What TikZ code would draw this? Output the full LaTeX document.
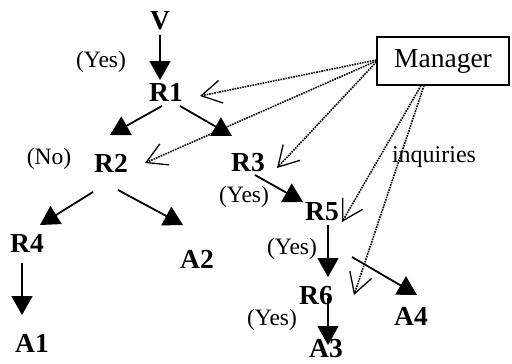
\documentclass[tikz,border=0pt]{standalone}
\usepackage{fontspec}
\setmainfont{Liberation Serif}
\usetikzlibrary{arrows.meta}
\tikzset{
  lbl/.style={inner sep=0pt, font=\bfseries\fontsize{27.5}{27.5}\selectfont},
  ans/.style={inner sep=0pt, font=\fontsize{23.5}{23.5}\selectfont},
  flow/.style={line width=1.8pt, -{Triangle[length=19pt,width=21pt]}},
  ask/.style={line width=1.6pt, densely dotted, -{Straight Barb[length=20pt,width=23pt,line width=1.3pt]}},
  mgr/.style={draw, line width=1.4pt, minimum width=132pt, minimum height=48pt, inner sep=0pt, font=\fontsize{27.5}{27.5}\selectfont}
}
\begin{document}
\begin{tikzpicture}[x=1pt,y=-1pt]
\useasboundingbox (0,0) rectangle (512,364);
% nodes
\node[lbl] (V)  at (160,21)  {V};
\node[lbl] (R1) at (166,92)  {R1};
\node[lbl] (R2) at (111,163) {R2};
\node[lbl] (R3) at (248,163) {R3};
\node[lbl] (R4) at (27,243)  {R4};
\node[lbl] (A2) at (197,259) {A2};
\node[lbl] (A1) at (32,343)  {A1};
\node[lbl] (R5) at (322,212) {R5};
\node[lbl] (R6) at (316,296) {R6};
\node[lbl] (A3) at (326,349) {A3};
\node[lbl] (A4) at (411,316) {A4};
\node[mgr] (M) at (443,61) {Manager};
\node[ans] (y1) at (101,62)  {(Yes)};
\node[ans] (no) at (49,159)  {(No)};
\node[ans] (y2) at (244,197) {(Yes)};
\node[ans] (y3) at (292,249) {(Yes)};
\node[ans] (y4) at (272,320) {(Yes)};
\node[inner sep=0pt, font=\fontsize{24}{24}\selectfont] (inq) at (434,157) {inquiries};
\coordinate (free) at (354,295);
% solid flow arrows
\draw[flow] ([shift={(0,14)}]V.center) -- ([shift={(-6,-12)}]R1.center);
\draw[flow] ([shift={(-4,14)}]R1.center) -- ([shift={(-1,-28)}]R2.center);
\draw[flow] ([shift={(14,14)}]R1.center) -- ([shift={(-16,-27)}]R3.center);
\draw[flow] ([shift={(-18,29)}]R2.center) -- ([shift={(13,-18)}]R4.center);
\draw[flow] ([shift={(7,27)}]R2.center) -- ([shift={(-14,-34)}]A2.center);
\draw[flow] ([shift={(-5,20)}]R4.center) -- ([shift={(-10,-28)}]A1.center);
\draw[flow] ([shift={(7,12)}]R3.center) -- ([shift={(-19,-10)}]R5.center);
\draw[flow] ([shift={(6,13)}]R5.center) -- ([shift={(12,-19)}]R6.center);
\draw[flow] ([shift={(12,2)}]R6.center) -- ([shift={(2,-4)}]A3.center);
\draw[flow] ([shift={(30,45)}]R5.center) -- ([shift={(6,-21)}]A4.center);
% dotted inquiries
\draw[ask] ([shift={(0,-1)}]M.west) -- ([shift={(34,4)}]R1.center);
\draw[ask] ([shift={(0,0)}]M.west) -- ([shift={(34,0)}]R2.center);
\draw[ask] ([shift={(0,1)}]M.west) -- ([shift={(29,5)}]R3.center);
\draw[ask] ([shift={(-22,0)}]M.south) -- ([shift={(20,10)}]R5.center);
\draw[ask] ([shift={(-19,0)}]M.south) -- (free);
\end{tikzpicture}
\end{document}
